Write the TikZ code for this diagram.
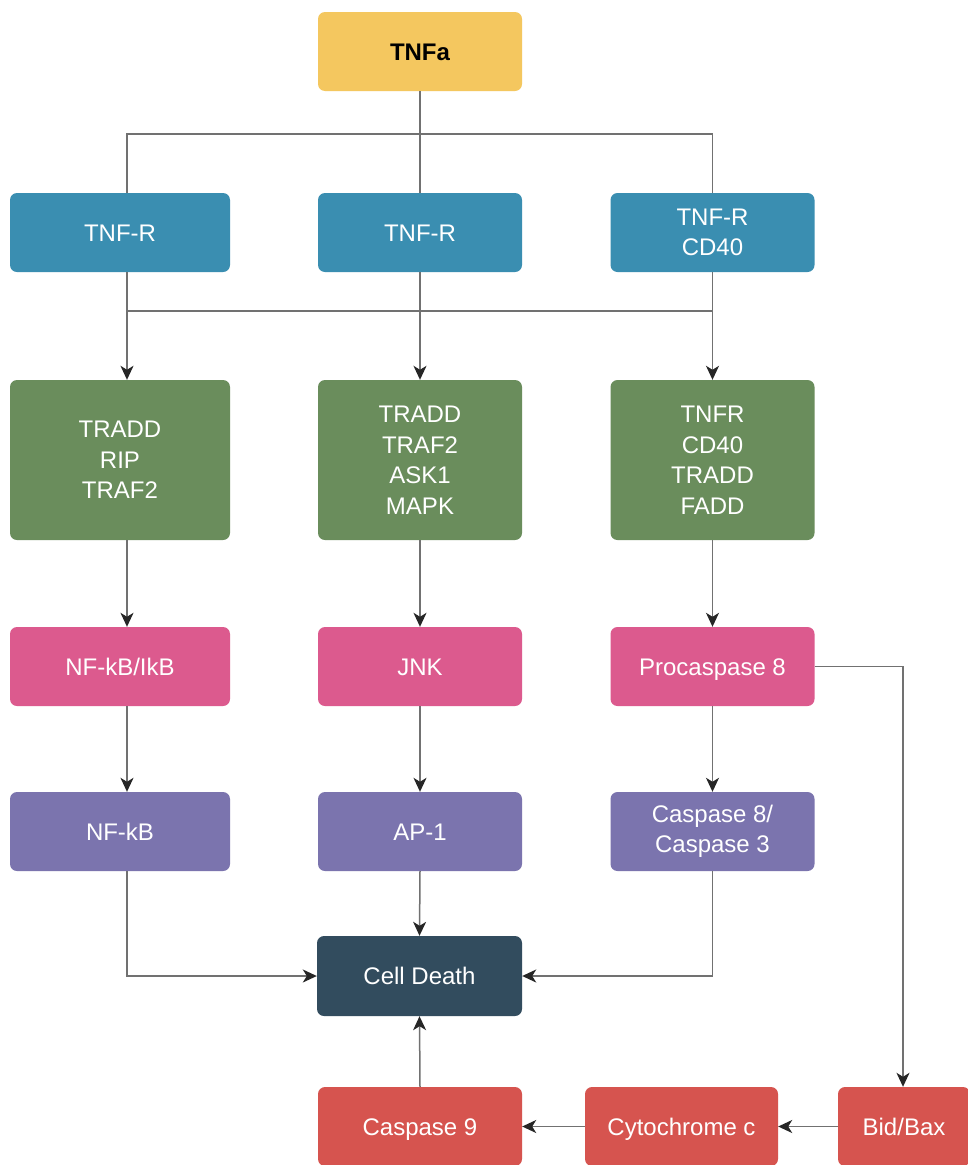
\documentclass[tikz,border=0pt]{standalone}
\usepackage{fontspec}
\setmainfont{Liberation Sans}
\usetikzlibrary{arrows.meta,calc}
\definecolor{cyel}{HTML}{F4C75F}
\definecolor{cblue}{HTML}{3A8EB1}
\definecolor{cgreen}{HTML}{6A8D5C}
\definecolor{cpink}{HTML}{DC5A8E}
\definecolor{cpurple}{HTML}{7B74AE}
\definecolor{cdark}{HTML}{324C5E}
\definecolor{cred}{HTML}{D6544F}
\definecolor{cline}{HTML}{717171}
\begin{document}
\begin{tikzpicture}[x=1pt,y=-1pt,
  box/.style={rectangle, rounded corners=7pt, draw=none, text=white, align=center,
    font=\fontsize{24}{30.5}\selectfont, inner sep=0pt, minimum height=79pt},
  one/.style={text height=17.2pt, text depth=0pt},
  ln/.style={draw=cline, line width=1.5pt},
  arr/.style={ln, -{Stealth[length=14pt,width=13pt,inset=4pt,fill=black!85,color=black!85]}}]
\useasboundingbox[fill=white] (0,0) rectangle (968,1165);
\begin{scope}
\clip (0,0) rectangle (968,1165);
% row 0
\node[box, one, fill=cyel, text=black, font=\fontsize{24}{30.5}\selectfont\bfseries, minimum width=204pt] (tnfa) at (420,51.5) {TNFa};
% row 1
\node[box, one, fill=cblue, minimum width=220pt] (r1) at (120,232.5) {TNF-R};
\node[box, one, fill=cblue, minimum width=204pt] (r2) at (420,232.5) {TNF-R};
\node[box, fill=cblue, minimum width=204pt] (r3) at (712.5,232.5) {TNF-R\\CD40};
% row 2
\node[box, fill=cgreen, minimum width=220pt, minimum height=160pt] (g1) at (120,460) {TRADD\\RIP\\TRAF2};
\node[box, fill=cgreen, minimum width=204pt, minimum height=160pt] (g2) at (420,460) {TRADD\\TRAF2\\ASK1\\MAPK};
\node[box, fill=cgreen, minimum width=204pt, minimum height=160pt] (g3) at (712.5,460) {TNFR\\CD40\\TRADD\\FADD};
% row 3
\node[box, one, fill=cpink, minimum width=220pt] (p1) at (120,666.5) {NF-kB/IkB};
\node[box, one, fill=cpink, minimum width=204pt] (p2) at (420,666.5) {JNK};
\node[box, one, fill=cpink, minimum width=204pt] (p3) at (712.5,666.5) {Procaspase 8};
% row 4
\node[box, one, fill=cpurple, minimum width=220pt] (u1) at (120,831.5) {NF-kB};
\node[box, one, fill=cpurple, minimum width=204pt] (u2) at (420,831.5) {AP-1};
\node[box, fill=cpurple, minimum width=204pt] (u3) at (712.5,831.5) {Caspase 8/\\Caspase 3};
% cell death
\node[box, one, fill=cdark, minimum width=205pt, minimum height=80pt] (cd) at (419.5,976) {Cell Death};
% red row
\node[box, one, fill=cred, minimum width=204pt] (c9) at (420,1126.5) {Caspase 9};
\node[box, one, fill=cred, minimum width=193pt] (cy) at (681.5,1126.5) {Cytochrome c};
\node[box, one, fill=cred, minimum width=132pt] (bb) at (904,1126.5) {Bid/Bax};
\end{scope}
% coordinates
\coordinate (j1) at (420,134);
\coordinate (j2) at (420,311);
\coordinate (L) at (127,0);
\coordinate (pk) at (903,666.5);
% connectors
\draw[ln] (tnfa.south) -- (r2.north);
\draw[ln] (L |- r1.north) |- (j1) -| (r3.north);
\draw[ln] (L |- r1.south) |- (j2) -| (r3.south);
\draw[ln] (r2.south) -- (j2);
\draw[arr] (L |- j2) -- (L |- g1.north);
\draw[arr] (j2) -- (g2.north);
\draw[arr] (r3.south |- j2) -- (g3.north);
\draw[arr] (L |- g1.south) -- (L |- p1.north);
\draw[arr] (g2.south) -- (p2.north);
\draw[arr] (g3.south) -- (p3.north);
\draw[arr] (L |- p1.south) -- (L |- u1.north);
\draw[arr] (p2.south) -- (u2.north);
\draw[arr] (p3.south) -- (u3.north);
\draw[arr] (L |- u1.south) |- (cd.west);
\draw[arr] (u2.south) -- (cd.north);
\draw[arr] (u3.south) |- (cd.east);
\draw[arr] (p3.east) -| (pk |- bb.north);
\draw[arr] (bb.west) -- (cy.east);
\draw[arr] (cy.west) -- (c9.east);
\draw[arr] (c9.north) -- (cd.south);
\end{tikzpicture}
\end{document}
